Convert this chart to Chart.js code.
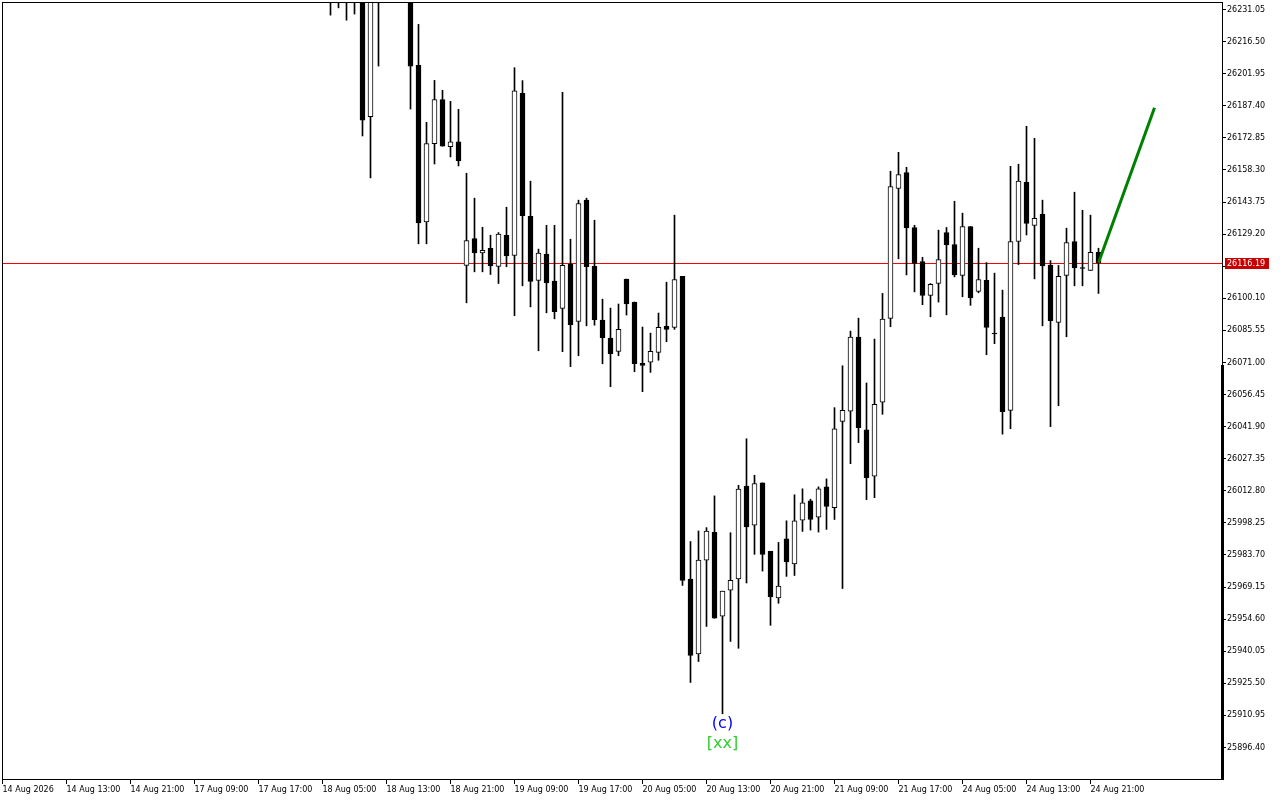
<!DOCTYPE html>
<html lang="en">
  <head>
    <meta charset="UTF-8" />
    <title>H1 price chart</title>
    <script src="https://cdn.jsdelivr.net/npm/chart.js"></script>
    <style>
      body {
        margin: 0;
        padding: 0;
        background: #fff;
      }
      canvas {
        display: block;
      }
    </style>
  </head>
  <body>
    <canvas id="priceChart" width="1280" height="800"></canvas>

    <script>
      // bars before this index sit above the visible price range
      const firstBar = 41;

      const opens = [
        26245, 26238, 26243, 26236, 26246, 26182.5, 26240, 26255, 26262, 26250, // 41
        26242, 26205.7, 26134.7, 26170.2, 26190.2, 26168.9, 26171.1, 26115.0, 26127.2, 26120.7, // 51
        26122.7, 26114.5, 26128.7, 26119.5, 26193.0, 26137.3, 26108.2, 26120.1, 26107.9, 26095.5, // 61
        26115.6, 26089.6, 26144.6, 26114.6, 26090.2, 26082.05, 26076.0, 26108.8, 26098.4, 26070.6, // 71
        26071.1, 26075.6, 26087.4, 26086.9, 26110.0, 25972.8, 25938.8, 25981.35, 25994.0, 25956.0, // 81
        25967.8, 25972.8, 26014.9, 25997.2, 26016.4, 25985.4, 25964.2, 25991.05, 25979.6, 25999.5, // 91
        26008.25, 26000.9, 26014.6, 26005.2, 26044.3, 26048.9, 26082.5, 26040.4, 26019.4, 26052.95, // 101
        26091.0, 26149.9, 26157.1, 26132.2, 26116.8, 26101.4, 26106.8, 26129.9, 26124.5, 26110.5, // 111
        26132.65, 26103.2, 26108.2, 26083.9, 26091.6, 26049.3, 26125.85, 26152.7, 26133.1, 26138.2, // 121
        26115.1, 26089.2, 26110.5, 26125.85, 26113.6, 26112.7, 26120.9, // 131
      ];
      const highs = [
        26252, 26250, 26255, 26248, 26250, 26245, 26262, 26270, 26275, 26262,
        26248, 26224.3, 26179.9, 26198.9, 26194.4, 26189.4, 26185.8, 26156.8, 26145.5, 26132.3,
        26128.7, 26129.9, 26141.4, 26204.65, 26198.8, 26153.2, 26122.4, 26133.2, 26133.2, 26193.5,
        26126.9, 26144.6, 26145.5, 26135.5, 26099.7, 26095.65, 26097.5, 26108.8, 26098.4, 26087.05,
        26084.3, 26093.4, 26107.4, 26137.8, 26110.0, 25989.8, 25994.6, 25996.1, 26010.5, 25967.3,
        25993.8, 26015.3, 26036.4, 26019.85, 26016.4, 25985.4, 25989.4, 25999.2, 26011.0, 26013.7,
        26009.0, 26014.6, 26018.2, 26050.5, 26069.5, 26085.2, 26091.1, 26061.7, 26081.6, 26102.3,
        26157.7, 26166.3, 26159.5, 26133.2, 26118.7, 26106.8, 26131.0, 26132.2, 26144.1, 26138.7,
        26132.65, 26122.8, 26116.3, 26111.5, 26103.8, 26159.95, 26160.9, 26178.1, 26172.6, 26144.6,
        26117.2, 26115.0, 26131.9, 26148.2, 26140.0, 26137.8, 26122.8,
      ];
      const lows = [
        26228.5, 26231.8, 26226.2, 26229.0, 26173.7, 26154.7, 26205.4, 26240, 26245, 26238,
        26185.9, 26124.8, 26124.8, 26161.0, 26169.1, 26164.2, 26160.1, 26098.05, 26112.1, 26112.1,
        26110.9, 26106.8, 26114.4, 26092.2, 26105.75, 26096.2, 26076.3, 26093.5, 26090.8, 26075.9,
        26069.1, 26074.05, 26087.6, 26087.9, 26070.4, 26060.0, 26074.05, 26092.5, 26066.8, 26057.75,
        26066.5, 26072.0, 26080.4, 26086.0, 25969.9, 25925.9, 25935.4, 25951.3, 25955.0, 25911.7,
        25944.5, 25941.4, 25971.0, 25984.0, 25976.4, 25951.8, 25961.8, 25974.0, 25974.4, 25994.4,
        25995.0, 25994.1, 25995.3, 25999.8, 25968.5, 26025.1, 26034.65, 26008.8, 26009.7, 26047.5,
        26087.2, 26118.0, 26110.7, 26103.0, 26097.2, 26091.7, 26098.4, 26092.6, 26109.8, 26100.8,
        26096.9, 26102.6, 26074.5, 26079.5, 26038.5, 26041.0, 26115.4, 26128.8, 26108.9, 26087.6,
        26041.9, 26051.4, 26082.65, 26105.75, 26105.75, 26112.7, 26102.3,
      ];
      const closes = [
        26238, 26243, 26236, 26246, 26180.9, 26240, 26255, 26262, 26250, 26242,
        26205.4, 26134.3, 26170.2, 26190.2, 26169.1, 26171.1, 26162.4, 26126.3, 26120.7, 26121.8,
        26114.8, 26129.2, 26119.3, 26194.2, 26137.6, 26107.7, 26120.6, 26107.1, 26094.0, 26115.0,
        26088.1, 26143.1, 26114.4, 26090.35, 26082.2, 26074.95, 26086.0, 26097.6, 26070.4, 26069.7,
        26076.0, 26086.9, 26086.0, 26108.6, 25972.2, 25938.2, 25981.35, 25994.5, 25955.0, 25967.3,
        25972.2, 26013.55, 25996.4, 26016.1, 25984.0, 25964.7, 25969.6, 25980.5, 25999.2, 26007.35,
        25999.8, 26013.7, 26005.7, 26040.9, 26049.3, 26082.5, 26041.45, 26018.8, 26052.0, 26090.7,
        26150.8, 26156.2, 26132.0, 26115.9, 26101.4, 26106.4, 26117.7, 26124.3, 26110.7, 26132.65,
        26100.3, 26108.6, 26086.9, 26083.9, 26048.7, 26125.85, 26153.2, 26134.0, 26136.4, 26114.8,
        26089.9, 26110.0, 26125.4, 26113.9, 26113.6, 26120.9, 26116.19,
      ];

      // one time label every 8 bars, starting at bar 0
      const xTickLabels = [
        "14 Aug 2026", "14 Aug 13:00", "14 Aug 21:00", "17 Aug 09:00",
        "17 Aug 17:00", "18 Aug 05:00", "18 Aug 13:00", "18 Aug 21:00",
        "19 Aug 09:00", "19 Aug 17:00", "20 Aug 05:00", "20 Aug 13:00",
        "20 Aug 21:00", "21 Aug 09:00", "21 Aug 17:00", "24 Aug 05:00",
        "24 Aug 13:00", "24 Aug 21:00",
      ];
      const yTickValues = [
        26231.05, 26216.5, 26201.95, 26187.4, 26172.85, 26158.3, 26143.75, 26129.2,
        26114.65, 26100.1, 26085.55, 26071.0, 26056.45, 26041.9, 26027.35, 26012.8,
        25998.25, 25983.7, 25969.15, 25954.6, 25940.05, 25925.5, 25910.95, 25896.4,
      ];

      const lastPrice = 26116.19;
      const projX = [137, 144];
      const projY = [26116.19, 26186.5];
      const waveBar = 90;
      const waveLabels = ["(c)", "[xx]"];

      const fontFamily = "'DejaVu Sans', sans-serif";

      const wicks = [];
      const bodies = [];
      const bodyColors = [];
      opens.forEach((o, k) => {
        const i = firstBar + k;
        wicks.push({ x: i, y: [lows[k], highs[k]] });
        bodies.push({ x: i, y: [o, closes[k]] });
        bodyColors.push(closes[k] > o ? "#ffffff" : "#000000");
      });
      const projection = projX.map((x, k) => ({ x: x, y: projY[k] }));

      // chart.js reserves room for edge labels; the axes here don't need it
      function noEdgePadding(s) {
        s.paddingLeft = 0;
        s.paddingRight = 0;
        s.paddingTop = 0;
        s.paddingBottom = 0;
      }

      const overlay = {
        id: "overlay",
        beforeDatasetsDraw(chart) {
          // price line sits behind the candles
          const { ctx, chartArea: a, scales } = chart;
          const py = Math.round(scales.y.getPixelForValue(lastPrice));
          ctx.save();
          ctx.globalAlpha = 1;
          ctx.fillStyle = "#ff0000";
          ctx.fillRect(a.left, py, a.right - a.left, 1);
          ctx.restore();
        },
        afterDraw(chart) {
          const { ctx, chartArea: a, scales } = chart;
          ctx.save();

          // frame
          ctx.strokeStyle = "#000";
          ctx.lineWidth = 1;
          ctx.strokeRect(a.left + 0.5, a.top + 0.5, a.right - a.left, a.bottom - a.top);
          ctx.fillStyle = "#000";
          ctx.fillRect(a.right - 1, 365, 3, a.bottom - 365 + 1);

          // last price tag
          const py = Math.round(scales.y.getPixelForValue(lastPrice)) + 0.5;
          ctx.fillStyle = "#c80000";
          ctx.fillRect(a.right + 3, Math.round(py - 6), 44, 11);
          ctx.fillStyle = "#fff";
          ctx.font = "8px " + fontFamily;
          ctx.textBaseline = "middle";
          ctx.textAlign = "left";
          ctx.fillText(lastPrice.toFixed(2), a.right + 5, py);

          // wave labels under the low
          const wx = scales.x.getPixelForValue(waveBar);
          const wy = scales.y.getPixelForValue(lows[waveBar - firstBar]);
          ctx.font = "16px " + fontFamily;
          ctx.textAlign = "center";
          ctx.fillStyle = "#0000ff";
          ctx.fillText(waveLabels[0], wx, wy + 10);
          ctx.fillStyle = "#32cd32";
          ctx.fillText(waveLabels[1], wx, wy + 30);

          ctx.restore();
        },
      };

      new Chart(document.getElementById("priceChart"), {
        type: "bar",
        data: {
          datasets: [
            {
              type: "line",
              data: projection,
              borderColor: "#008000",
              borderWidth: 3,
              pointRadius: 0,
              order: 0,
            },
            {
              type: "bar",
              data: bodies,
              backgroundColor: bodyColors,
              borderColor: "#000",
              borderWidth: 1,
              borderSkipped: false,
              barThickness: 5,
              minBarLength: 1,
              grouped: false,
              order: 1,
            },
            {
              type: "bar",
              data: wicks,
              backgroundColor: "#000",
              borderWidth: 0,
              barThickness: 1,
              grouped: false,
              order: 2,
            },
          ],
        },
        options: {
          responsive: false,
          animation: false,
          devicePixelRatio: 1,
          events: [],
          layout: { padding: { left: 2, top: 2, right: 0, bottom: 0 } },
          plugins: {
            legend: { display: false },
            tooltip: { enabled: false },
          },
          scales: {
            x: {
              type: "linear",
              offset: false,
              min: -0.0625,
              max: 152.4375,
              afterBuildTicks: (s) => {
                s.ticks = xTickLabels.map((_, k) => ({ value: k * 8 }));
              },
              afterFit: (s) => {
                s.height = 21;
                noEdgePadding(s);
              },
              grid: { offset: false, drawOnChartArea: false, color: "#000", tickLength: 5 },
              border: { display: false },
              ticks: {
                align: "start",
                autoSkip: false,
                maxRotation: 0,
                minRotation: 0,
                padding: 1,
                color: "#000",
                font: { family: fontFamily, size: 8 },
                callback: (v, idx) => xTickLabels[idx],
              },
            },
            y: {
              position: "right",
              min: 25882.12,
              max: 26234.45,
              afterBuildTicks: (s) => {
                s.ticks = yTickValues.map((v) => ({ value: v }));
              },
              afterFit: (s) => {
                s.width = 58;
                noEdgePadding(s);
              },
              grid: { drawOnChartArea: false, color: "#000", tickLength: 4 },
              border: { display: false },
              ticks: {
                autoSkip: false,
                padding: 1,
                color: "#000",
                font: { family: fontFamily, size: 8 },
                callback: (v) => Number(v).toFixed(2),
              },
            },
          },
        },
        plugins: [overlay],
      });
    </script>
  </body>
</html>
